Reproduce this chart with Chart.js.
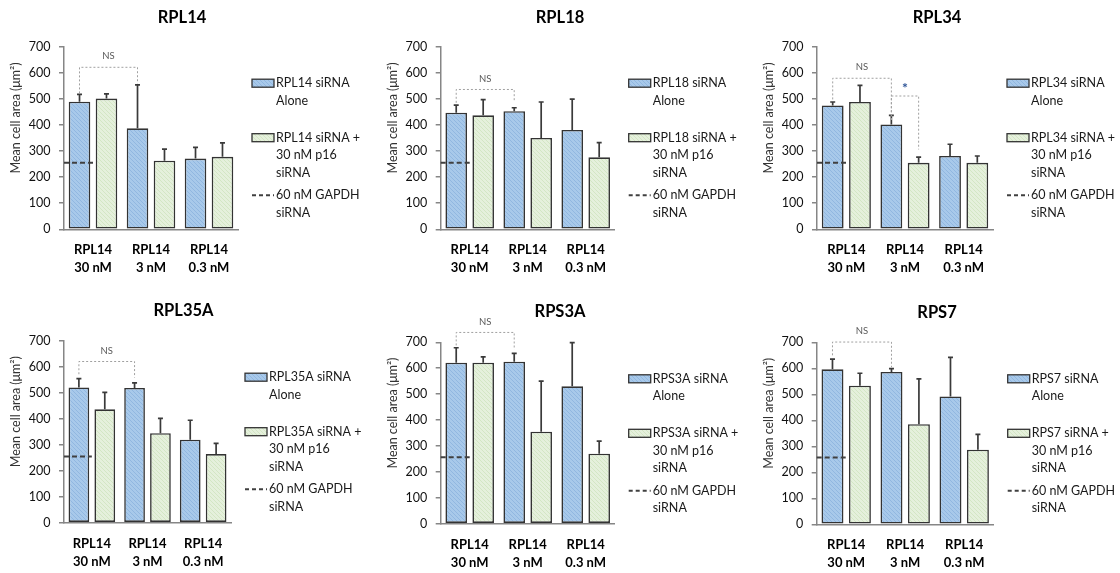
<!DOCTYPE html>
<html><head><meta charset="utf-8">
<script src="https://cdn.jsdelivr.net/npm/chart.js@4"></script>
<style>
html,body{margin:0;padding:0;background:#fff;overflow:hidden;width:1120px;height:573px;position:relative;}
canvas{position:absolute;}
</style></head><body>
<script>
// ---------- data ----------
const panelTitles = ["RPL14","RPL18","RPL34","RPL35A","RPS3A","RPS7"];
const categoryLabels = [["RPL14","30 nM"],["RPL14","3 nM"],["RPL14","0.3 nM"]];
const yTickValues = [0,100,200,300,400,500,600,700];
const aloneMeans  = [[489,387,271],[447,453,381],[475,402,281],[520,518,319],[621,625,530],[596,586,492]];
const aloneErrors = [[28,167,43],[29,13,118],[13,35,45],[34,20,75],[58,32,169],[39,13,150]];
const p16Means    = [[501,263,278],[437,350,276],[488,255,255],[436,344,264],[621,355,270],[533,385,287]];
const p16Errors   = [[18,44,53],[60,138,56],[64,22,26],[65,57,41],[23,195,49],[48,174,59]];
const gapdhMeans  = [255,255,255,255,256,257];
// brackets: [datasetA, catA, datasetB, catB, top, bottomA, bottomB, label]
const brackets = [
  [[0,0,0,1,621,521,559,"NS"]],
  [[0,0,0,1,536,485,488,"NS"]],
  [[0,0,0,1,579,498,419,"NS"],[0,1,1,1,511,419,306,"*"]],
  [[0,0,0,1,620,571,558,"NS"]],
  [[0,0,0,1,738,688,672,"NS"]],
  [[0,0,0,1,701,650,604,"NS"]]
];
const legendAlone = ["{g} siRNA","Alone"];
const legendP16   = ["{g} siRNA +","30 nM p16","siRNA"];
const legendGapdh = ["60 nM GAPDH","siRNA"];
const yAxisTitle = "Mean cell area (\u03bcm\u00b2)";

// ---------- layout (page coordinates) ----------
const frames = [
 {L:0,  T:0,  W:364,H:290,yW:64,  rW:126,  titleY:17.3, top:46.7, bottom:229.3},
 {L:370,T:0,  W:380,H:290,yW:70.7,rW:135.3,titleY:17.3, top:46.7, bottom:229.3},
 {L:740,T:0,  W:394,H:290,yW:77,  rW:141,  titleY:17.3, top:46.7, bottom:229.3},
 {L:0,  T:294,W:367,H:279,yW:64,  rW:136,  titleY:310.7,top:340.7,bottom:522.7},
 {L:370,T:294,W:380,H:279,yW:70.7,rW:135.3,titleY:311.7,top:342.3,bottom:523.7},
 {L:740,T:294,W:394,H:279,yW:76.7,rW:140.3,titleY:312.7,top:342.3,bottom:524.3}
];

const FONT = 'Lato, "Open Sans", sans-serif';
function hatch(bg, stripe){
  const c = document.createElement('canvas'); c.width = 4; c.height = 4;
  const g = c.getContext('2d');
  g.fillStyle = bg; g.fillRect(0,0,4,4);
  g.strokeStyle = stripe; g.lineWidth = 1;
  g.beginPath();
  g.moveTo(-1,-1); g.lineTo(5,5);
  g.moveTo(-1,3); g.lineTo(1,5);
  g.moveTo(3,-1); g.lineTo(5,1);
  g.stroke();
  return g.createPattern(c,'repeat');
}
const bluePat = hatch('#a8c9ea','#91b7e0');
const greenPat = hatch('#e5f0dc','#d3e6c4');
const EDGE = '#333333';

const overlay = {
  id:'overlay',
  afterDatasetsDraw(chart){
    const ctx = chart.ctx, xs = chart.scales.x, ys = chart.scales.y, ca = chart.chartArea;
    const p = chart.options.plugins.overlay;
    ctx.save();
    // GAPDH reference
    const gy = ys.getPixelForValue(p.gapdh);
    ctx.strokeStyle = '#404040'; ctx.lineWidth = 2; ctx.setLineDash([5,3]);
    ctx.beginPath(); ctx.moveTo(ca.left, gy); ctx.lineTo(xs.getPixelForValue(0), gy); ctx.stroke();
    ctx.setLineDash([]);
    // error bars
    chart.data.datasets.forEach((ds, d) => {
      const meta = chart.getDatasetMeta(d);
      meta.data.forEach((bar, i) => {
        const yt = ys.getPixelForValue(ds.data[i] + ds.errors[i]);
        ctx.strokeStyle = '#3a3a3a'; ctx.lineWidth = 1.7;
        ctx.beginPath(); ctx.moveTo(bar.x, bar.y); ctx.lineTo(bar.x, yt);
        ctx.moveTo(bar.x - 2.5, yt); ctx.lineTo(bar.x + 2.5, yt); ctx.stroke();
      });
    });
    // brackets
    p.brackets.forEach(b => {
      const xa = chart.getDatasetMeta(b[0]).data[b[1]].x;
      const xb = chart.getDatasetMeta(b[2]).data[b[3]].x;
      const yt = ys.getPixelForValue(b[4]);
      ctx.strokeStyle = '#a0a0a0'; ctx.lineWidth = 1; ctx.setLineDash([2,2]);
      ctx.beginPath();
      ctx.moveTo(xa, ys.getPixelForValue(b[5])); ctx.lineTo(xa, yt);
      ctx.lineTo(xb, yt); ctx.lineTo(xb, ys.getPixelForValue(b[6]));
      ctx.stroke(); ctx.setLineDash([]);
      ctx.textAlign = 'center'; ctx.textBaseline = 'middle';
      if (b[7] === '*') { ctx.fillStyle = '#2f5597'; ctx.font = 'bold 14px ' + FONT; ctx.fillText('*', (xa+xb)/2, yt - 8); }
      else { ctx.fillStyle = '#595959'; ctx.font = '9.5px ' + FONT; ctx.fillText(b[7], (xa+xb)/2, yt - 11); }
    });
    // y-axis title
    ctx.save();
    ctx.translate(ca.left - 48, ca.top + 0.39*(ca.bottom - ca.top));
    ctx.rotate(-Math.PI/2);
    ctx.fillStyle = '#333333'; ctx.font = '12.5px ' + FONT; ctx.textAlign='center'; ctx.textBaseline='middle';
    ctx.fillText(yAxisTitle, 0, 0);
    ctx.restore();
    // legend
    const lx = ca.right + 14, lh = 17.5;
    const items = [
      {lines: p.legend[0], kind:'box', fill: bluePat, dy: 36.5},
      {lines: p.legend[1], kind:'box', fill: greenPat, dy: 91},
      {lines: p.legend[2], kind:'dash', dy: 148.5}
    ];
    ctx.font = '12.5px ' + FONT; ctx.textAlign = 'left'; ctx.textBaseline = 'middle';
    items.forEach(it => {
      const y0 = ca.top + it.dy;
      if (it.kind === 'box') {
        ctx.fillStyle = it.fill; ctx.fillRect(lx, y0 - 4, 22, 8);
        ctx.strokeStyle = EDGE; ctx.lineWidth = 1.3; ctx.strokeRect(lx, y0 - 4, 22, 8);
      } else {
        ctx.strokeStyle = '#404040'; ctx.lineWidth = 2; ctx.setLineDash([4,3]);
        ctx.beginPath(); ctx.moveTo(lx, y0); ctx.lineTo(lx + 22, y0); ctx.stroke(); ctx.setLineDash([]);
      }
      ctx.fillStyle = '#1a1a1a';
      it.lines.forEach((t, k) => ctx.fillText(t, lx + 24, y0 + k*lh));
    });
    ctx.restore();
  }
};

frames.forEach((f, i) => {
  const cv = document.createElement('canvas');
  cv.width = f.W; cv.height = f.H;
  cv.style.left = f.L + 'px'; cv.style.top = f.T + 'px';
  document.body.appendChild(cv);
  const g = panelTitles[i];
  const tl = 16.5 * 1.2;
  new Chart(cv, {
    type: 'bar',
    data: {
      labels: categoryLabels,
      datasets: [
        {label: legendAlone.join(' ').replace('{g}', g), data: aloneMeans[i], errors: aloneErrors[i],
         backgroundColor: bluePat, borderColor: EDGE, borderWidth: 1.6, borderSkipped: false,
         barPercentage: 0.8, categoryPercentage: 0.93},
        {label: legendP16.join(' ').replace('{g}', g), data: p16Means[i], errors: p16Errors[i],
         backgroundColor: greenPat, borderColor: EDGE, borderWidth: 1.6, borderSkipped: false,
         barPercentage: 0.8, categoryPercentage: 0.93}
      ]
    },
    options: {
      responsive: false, animation: false, devicePixelRatio: 1,
      layout: {padding: 0},
      plugins: {
        legend: {display: false}, tooltip: {enabled: false},
        title: {display: true, text: g, color: '#000',
          font: {family: FONT, size: 16.5, weight: 'bold', lineHeight: 1.2},
          padding: {top: f.titleY - f.T - tl/2, bottom: f.top - f.titleY - tl/2}},
        overlay: {
          gapdh: gapdhMeans[i], brackets: brackets[i],
          legend: [legendAlone.map(s => s.replace('{g}', g)), legendP16.map(s => s.replace('{g}', g)), legendGapdh]
        }
      },
      scales: {
        x: {
          grid: {display: false, drawTicks: false},
          border: {display: true, color: '#868686', width: 1.5},
          ticks: {color: '#000', font: {family: FONT, size: 13, weight: 'bold', lineHeight: 1.4},
                  padding: 11.6, maxRotation: 0, autoSkip: false},
          afterFit: s => { s.height = f.T + f.H - f.bottom; }
        },
        y: {
          position: 'left', min: 0, max: 700,
          afterBuildTicks: s => { s.ticks = yTickValues.map(v => ({value: v})); },
          grid: {drawOnChartArea: false, drawTicks: true, tickLength: 5, color: '#868686', lineWidth: 1.5},
          border: {display: true, color: '#868686', width: 1.5},
          ticks: {color: '#111', font: {family: FONT, size: 12.5}, padding: 8.5},
          afterFit: s => { s.width = f.yW; }
        },
        yR: {
          position: 'right', display: true,
          grid: {display: false}, border: {display: false}, ticks: {display: false},
          afterFit: s => { s.width = f.rW; }
        }
      }
    },
    plugins: [overlay]
  });
});
</script>
</body></html>
